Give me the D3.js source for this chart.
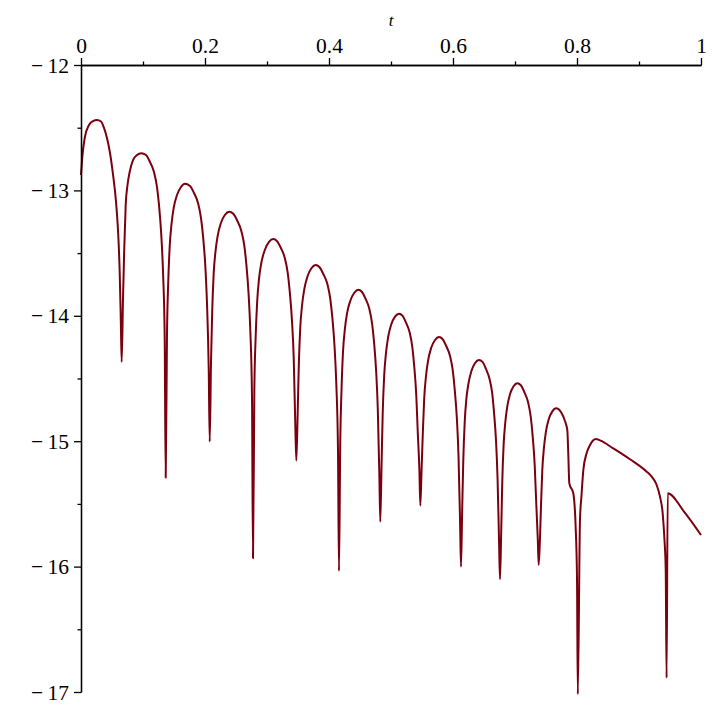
<!DOCTYPE html>
<html>
<head>
<meta charset="utf-8">
<script src="https://cdn.jsdelivr.net/npm/d3@7"></script>
<style>
  body { margin: 0; background: #fff; }
</style>
</head>
<body>
<svg id="viz" width="714" height="714"></svg>
<script>
var width = 714, height = 714
var serif = '"Liberation Serif", "Times New Roman", Times, serif'

// x ticks (t) and y ticks
var xMajor = [0, 0.2, 0.4, 0.6, 0.8, 1]
var xMinor = [0.1, 0.3, 0.5, 0.7, 0.9]
var yMajor = [-12, -13, -14, -15, -16, -17]
var yMinor = [-12.5, -13.5, -14.5, -15.5, -16.5]

// curve
var tVals = [
  0, 0.0024, 0.0060, 0.0129, 0.0194, 0.0258, 0.0323, 0.0371, 0.0419, 0.0468, 0.0511, 0.0569, 0.0605, 0.0624, 0.0642, 0.0656,
  0.0677, 0.0697, 0.0721, 0.0750, 0.0785, 0.0839, 0.0903, 0.0973, 0.1048, 0.1113, 0.1177, 0.1226, 0.1258, 0.1295, 0.1323, 0.1350, 0.1366,
  0.1387, 0.1406, 0.1431, 0.1460, 0.1495, 0.1548, 0.1613, 0.1673, 0.1758, 0.1823, 0.1887, 0.1935, 0.1968, 0.2005, 0.2032, 0.2060, 0.2076,
  0.2097, 0.2116, 0.2140, 0.2169, 0.2205, 0.2258, 0.2323, 0.2392, 0.2456, 0.2521, 0.2585, 0.2634, 0.2666, 0.2703, 0.2731, 0.2758, 0.2774,
  0.2796, 0.2816, 0.2842, 0.2871, 0.2908, 0.2965, 0.3032, 0.3102, 0.3161, 0.3224, 0.3287, 0.3335, 0.3366, 0.3403, 0.3431, 0.3456, 0.3473,
  0.3494, 0.3513, 0.3537, 0.3566, 0.3602, 0.3655, 0.3719, 0.3785, 0.3844, 0.3908, 0.3973, 0.4021, 0.4053, 0.4090, 0.4118, 0.4145, 0.4161,
  0.4182, 0.4202, 0.4226, 0.4255, 0.4290, 0.4344, 0.4408, 0.4473, 0.4529, 0.4589, 0.4650, 0.4695, 0.4726, 0.4761, 0.4787, 0.4812, 0.4827,
  0.4848, 0.4866, 0.4890, 0.4918, 0.4952, 0.5002, 0.5065, 0.5129, 0.5184, 0.5242, 0.5302, 0.5345, 0.5374, 0.5408, 0.5432, 0.5458, 0.5473,
  0.5493, 0.5511, 0.5535, 0.5563, 0.5597, 0.5647, 0.5710, 0.5774, 0.5831, 0.5890, 0.5952, 0.5997, 0.6027, 0.6063, 0.6089, 0.6114, 0.6129,
  0.6148, 0.6166, 0.6189, 0.6214, 0.6248, 0.6297, 0.6356, 0.6419, 0.6476, 0.6532, 0.6590, 0.6634, 0.6661, 0.6695, 0.6719, 0.6744, 0.6758,
  0.6777, 0.6794, 0.6816, 0.6842, 0.6873, 0.6919, 0.6977, 0.7037, 0.7094, 0.7152, 0.7211, 0.7255, 0.7284, 0.7318, 0.7342, 0.7368, 0.7382,
  0.7402, 0.7418, 0.7440, 0.7466, 0.7497, 0.7544, 0.7602, 0.7661, 0.7753, 0.7806, 0.7844, 0.7860, 0.7876, 0.7940, 0.7979, 0.8000, 0.8013,
  0.8048, 0.8073, 0.8102, 0.8156, 0.8210, 0.8258, 0.8306, 0.8371, 0.8585, 0.8855, 0.9124, 0.9205, 0.9285, 0.9339, 0.9382, 0.9408, 0.9431, 0.9445,
  0.9463, 0.9726, 1
]
var logErr = [
  -12.877, -12.718, -12.582, -12.478, -12.447, -12.439, -12.451, -12.502, -12.582, -12.702, -12.853, -13.116, -13.396, -13.651, -14.033, -14.368,
  -13.874, -13.475, -13.116, -12.957, -12.853, -12.758, -12.718, -12.704, -12.718, -12.774, -12.853, -12.973, -13.116, -13.356, -13.651, -14.177, -15.291,
  -14.145, -13.746, -13.443, -13.268, -13.140, -13.037, -12.973, -12.947, -12.965, -13.021, -13.100, -13.220, -13.364, -13.603, -13.898, -14.424, -15.004,
  -14.366, -13.967, -13.664, -13.488, -13.361, -13.258, -13.194, -13.170, -13.186, -13.242, -13.321, -13.441, -13.585, -13.824, -14.119, -14.645, -15.934,
  -14.584, -14.185, -13.882, -13.706, -13.579, -13.475, -13.411, -13.388, -13.404, -13.459, -13.539, -13.659, -13.802, -14.041, -14.336, -14.863, -15.155,
  -14.791, -14.392, -14.089, -13.914, -13.786, -13.683, -13.619, -13.595, -13.611, -13.667, -13.746, -13.866, -14.010, -14.249, -14.544, -15.070, -16.035,
  -14.988, -14.589, -14.286, -14.111, -13.983, -13.880, -13.816, -13.792, -13.808, -13.864, -13.943, -14.063, -14.207, -14.446, -14.741, -15.267, -15.642,
  -15.179, -14.781, -14.478, -14.302, -14.175, -14.071, -14.007, -13.983, -13.999, -14.055, -14.135, -14.254, -14.398, -14.637, -14.932, -15.230, -15.514,
  -15.230, -14.966, -14.663, -14.488, -14.360, -14.257, -14.193, -14.169, -14.185, -14.241, -14.320, -14.440, -14.584, -14.823, -15.118, -15.644, -16.001,
  -15.549, -15.150, -14.847, -14.671, -14.544, -14.440, -14.376, -14.352, -14.368, -14.424, -14.504, -14.624, -14.767, -15.006, -15.301, -15.828, -16.101,
  -15.734, -15.336, -15.033, -14.857, -14.730, -14.626, -14.562, -14.538, -14.554, -14.610, -14.690, -14.809, -14.953, -15.192, -15.487, -15.788, -15.987,
  -15.788, -15.535, -15.232, -15.057, -14.929, -14.825, -14.762, -14.738, -14.777, -14.839, -14.911, -15.110, -15.336, -15.415, -15.692, -16.091, -17.018,
  -15.628, -15.429, -15.230, -15.094, -15.030, -14.994, -14.982, -14.994, -15.057, -15.144, -15.243, -15.283, -15.349, -15.443, -15.575, -15.762, -16.027, -16.888,
  -15.415, -15.561, -15.748
]

var x = d3.scaleLinear().domain([0, 1]).range([81, 701])
var y = d3.scaleLinear().domain([-12, -17]).range([65, 692])

var svg = d3.select('svg#viz')

var pts = tVals.map(function(d, i) { return [d, logErr[i]] })

var line = d3.line()
  .curve(d3.curveMonotoneX)
  .x(function(d) { return x(d[0]) })
  .y(function(d) { return y(d[1]) })

svg.append('path')
  .datum(pts)
  .attr('d', line)
  .attr('fill', 'none')
  .attr('stroke', '#7a0010')
  .attr('stroke-width', 2)
  .attr('stroke-linejoin', 'round')

// minor ticks
svg.append('g')
  .attr('transform', 'translate(0,' + y(-12) + ')')
  .call(d3.axisTop(x).tickValues(xMinor).tickSize(3.5).tickSizeOuter(0).tickFormat(''))
svg.append('g')
  .attr('transform', 'translate(' + x(0) + ',0)')
  .call(d3.axisLeft(y).tickValues(yMinor).tickSize(3.5).tickSizeOuter(0).tickFormat(''))

// major ticks
var xAxis = svg.append('g')
  .attr('transform', 'translate(0,' + y(-12) + ')')
  .call(d3.axisTop(x).tickValues(xMajor).tickSize(7).tickSizeOuter(0).tickFormat(d3.format('')))
var yAxis = svg.append('g')
  .attr('transform', 'translate(' + x(0) + ',0)')
  .call(d3.axisLeft(y).tickValues(yMajor).tickSize(7).tickSizeOuter(0)
    .tickFormat(function(d) { return '\u2212\u2009' + Math.abs(d) }))

svg.selectAll('g').attr('font-family', serif)
svg.selectAll('.domain, .tick line').attr('stroke', '#000').attr('stroke-width', 1.3)
xAxis.selectAll('text')
  .style('font-family', serif).style('font-size', '21.5px')
  .attr('fill', '#000').attr('y', -12.5)
yAxis.selectAll('text')
  .style('font-family', serif).style('font-size', '21.5px')
  .attr('fill', '#000').attr('x', -12).attr('dy', '0.33em')

svg.append('text')
  .attr('x', (x(0) + x(1)) / 2)
  .attr('y', 26)
  .attr('text-anchor', 'middle')
  .style('font-family', serif)
  .style('font-size', '17px')
  .style('font-style', 'italic')
  .text('t')
</script>
</body>
</html>
